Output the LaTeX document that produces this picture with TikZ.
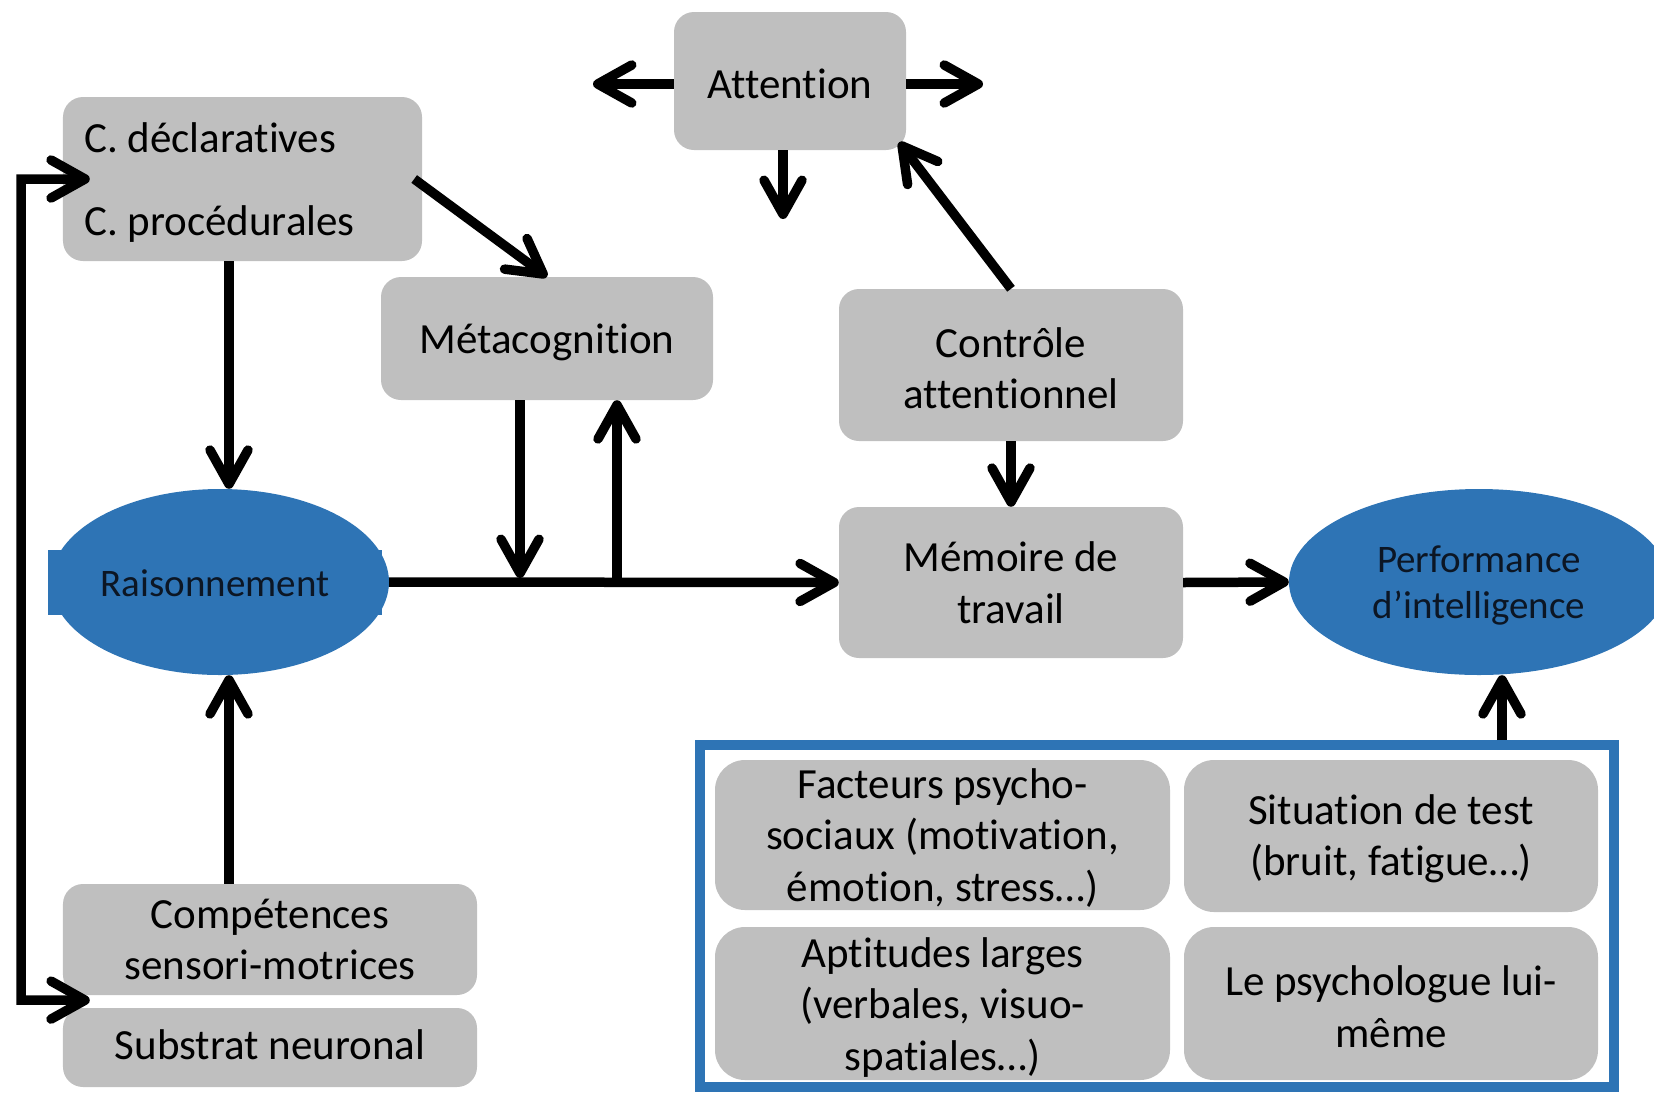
\documentclass[tikz,border=0pt]{standalone}
\usepackage{fontspec}
\setmainfont{Carlito}[Ligatures=NoCommon]
\usetikzlibrary{arrows.meta,shapes.geometric}
\definecolor{boxgray}{RGB}{191,191,191}
\definecolor{bluefill}{RGB}{46,116,181}
\definecolor{elltext}{RGB}{12,22,36}
\begin{document}
\begin{tikzpicture}[x=1bp,y=-1bp,
  gbox/.style={fill=boxgray, rounded corners=20bp, inner sep=0pt},
  ibox/.style={gbox, rounded corners=30bp},
  txt/.style={inner sep=0pt, align=center, font=\fontsize{43bp}{51.5bp}\selectfont},
  etxt/.style={inner sep=0pt, align=center, text=elltext, font=\fontsize{39bp}{46bp}\selectfont},
  bell/.style={ellipse, fill=bluefill, inner sep=0pt},
  barb/.tip={Straight Barb[length=34bp,width=38bp,round]},
  arr/.style={line width=9.5bp, -barb},
  darr/.style={line width=9.5bp, barb-barb},
]
\useasboundingbox (0,0) rectangle (1654,1092);

% boxes
\node[gbox, minimum width=232bp, minimum height=138bp] (att) at (790,81) {};
\node[txt] (attT) at ([shift={(0,3)}]att.center) {Attention};
\node[gbox, minimum width=359bp, minimum height=164bp] (cd) at (242.5,179) {};
\node[txt, anchor=base west] (cdt1) at (84,152) {C. déclaratives};
\node[txt, anchor=base west] (cdt2) at (84,235) {C. procédurales};
\node[gbox, minimum width=332bp, minimum height=123bp] (meta) at (547,338.5) {};
\node[txt] (metaT) at ([shift={(0,4)}]meta.center) {Métacognition};
\node[gbox, minimum width=344bp, minimum height=152bp] (ctrl) at (1011,365) {};
\node[txt] (ctrlT) at ([shift={(0,3)}]ctrl.center) {Contrôle\\attentionnel};
\node[gbox, minimum width=344bp, minimum height=151bp] (mem) at (1011,582.5) {};
\node[txt] (memT) at (mem.center) {Mémoire de\\travail};
\node[fill=bluefill, inner sep=0pt, minimum width=334bp, minimum height=65bp] (raisbg) at (215,582.5) {};
\node[bell, minimum width=338bp, minimum height=186bp] (rais) at (220,582) {};
\node[etxt] (raisT) at ([shift={(-5,1)}]rais.center) {Raisonnement};
\node[bell, minimum width=380bp, minimum height=186bp] (perf) at (1479,582) {};
\node[etxt] (perfT) at ([shift={(0,3)}]perf.center) {Performance\\d’intelligence};
\node[gbox, minimum width=414bp, minimum height=111bp] (comp) at (270,939.5) {};
\node[txt] (compT) at (comp.center) {Compétences\\sensori-motrices};
\node[gbox, minimum width=414bp, minimum height=79bp] (subs) at (270,1047.5) {};
\node[txt] (subsT) at ([shift={(0,-3)}]subs.center) {Substrat neuronal};

% frame and inner boxes
\node[draw=bluefill, line width=10bp, inner sep=0pt, minimum width=914bp, minimum height=342bp] (frame) at (1157,916) {};
\node[ibox, minimum width=455bp, minimum height=150bp] (fact) at (942.5,835) {};
\node[txt] (factT) at ([shift={(0,3)}]fact.center) {Facteurs psycho-\\sociaux (motivation,\\émotion, stress…)};
\node[ibox, minimum width=414bp, minimum height=152bp] (sit) at (1391,836) {};
\node[txt] (sitT) at ([shift={(0,3)}]sit.center) {Situation de test\\(bruit, fatigue…)};
\node[ibox, minimum width=455bp, minimum height=153bp] (apt) at (942.5,1003.5) {};
\node[txt] (aptT) at ([shift={(0,4)}]apt.center) {Aptitudes larges\\(verbales, visuo-\\spatiales…)};
\node[ibox, minimum width=414bp, minimum height=153bp] (psy) at (1391,1003.5) {};
\node[txt] (psyT) at ([shift={(0,3)}]psy.center) {Le psychologue lui-\\même};

% free ends
\coordinate (attL) at (593,84);
\coordinate (attR) at (983,84);
\coordinate (attD) at (783,219);
\coordinate (fbT) at (21,179);
\coordinate (fbB) at (21,1000);
\coordinate (j1) at (520,578);
\coordinate (j2) at (617,582.5);

% connectors
\draw[arr] (att.west |- attL) -- (attL);
\draw[arr] (att.east |- attR) -- (attR);
\draw[arr] (att.south -| attD) -- (attD);
\draw[arr] (ctrl.north) -- ([shift={(-7,-8)}]att.south east);
\draw[arr] (ctrl.south) -- (mem.north);
\draw[arr] ([shift={(-8,0)}]cd.east) -- (meta.north);
\draw[arr] ([shift={(-13.5,0)}]cd.south) -- ([shift={(-13.5,0)}]cd.south |- rais.north);
\draw[arr] ([shift={(-41,0)}]comp.north) -- ([shift={(-41,0)}]comp.north |- rais.south);
\draw[darr] ([shift={(27,0)}]cd.west) -- (fbT) -- (fbB) -- ([shift={(27,5)}]comp.south west);
\draw[arr] (rais.east) -- (mem.west);
\draw[arr] (meta.south -| j1) -- (j1);
\draw[arr] (j2) -- (meta.south -| j2);
\draw[arr] (mem.east) -- (perf.west);
\draw[arr] ([shift={(345,0)}]frame.north) -- ([shift={(345,0)}]frame.north |- perf.south);
\end{tikzpicture}
\end{document}
